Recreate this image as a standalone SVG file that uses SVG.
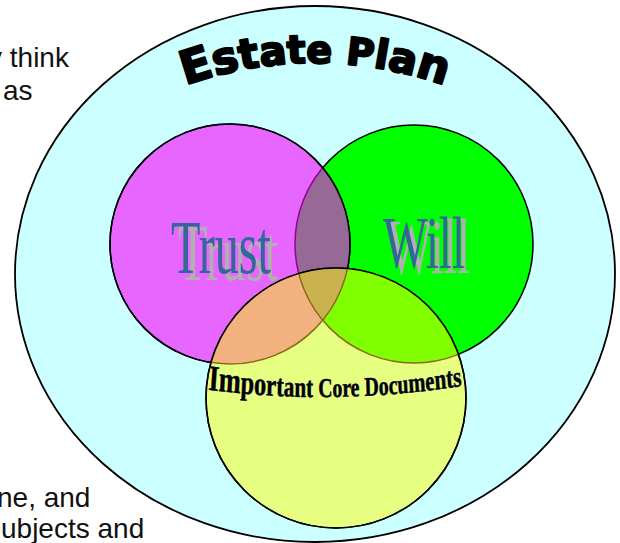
<svg xmlns="http://www.w3.org/2000/svg" xmlns:xlink="http://www.w3.org/1999/xlink" width="620" height="543" viewBox="0 0 620 543">
  <style>
    .body { font-family: "Liberation Sans", Arial, sans-serif; font-size: 28px; fill: #111; }
    .ring { stroke: #000; stroke-width: 1.5; }
    .label { font-family: "Liberation Serif", "Times New Roman", serif; }
    .blue { fill: #336699; }
    .shadow { fill: #b0b0b0; }
  </style>
  <defs>
    <circle id="trustShape" cx="230" cy="244" r="120"/>
    <circle id="willShape" cx="414" cy="244" r="119"/>
    <circle id="coreShape" cx="336" cy="398" r="130"/>
    <clipPath id="inTrust"><use href="#trustShape"/></clipPath>
    <clipPath id="inCore"><use href="#coreShape"/></clipPath>
    <path id="titleArc" d="M121,115 A388,388 0 0,1 509,115"/>
    <path id="coreArc" d="M155,389 Q335,407 515,385"/>
  </defs>

  <rect width="620" height="543" fill="#fff"/>

  <!-- surrounding body text, running off the left edge -->
  <g id="body-text" class="body">
    <text x="-12" y="67">y think</text>
    <text x="3" y="100">as</text>
    <text x="-3" y="507">ne, and</text>
    <text x="1" y="538">ubjects and</text>
  </g>

  <!-- outer set -->
  <g id="estate-plan">
    <ellipse cx="315" cy="274" rx="300" ry="268" fill="#ccffff" stroke="#000" stroke-width="1.8"/>
    <text font-family="'DejaVu Sans', sans-serif" font-weight="bold" fill="#000" stroke="#000" stroke-width="2.2" stroke-linejoin="round">
      <textPath href="#titleArc" startOffset="50%" text-anchor="middle"><tspan font-size="46">E</tspan><tspan font-size="44">s</tspan><tspan font-size="42">t</tspan><tspan font-size="40">a</tspan><tspan font-size="39">t</tspan><tspan font-size="38">e P</tspan><tspan font-size="40">l</tspan><tspan font-size="42">a</tspan><tspan font-size="45">n</tspan></textPath>
    </text>
  </g>

  <!-- inner sets -->
  <g id="will">
    <use href="#willShape" fill="#00ff00" class="ring"/>
  </g>
  <g id="trust">
    <use href="#trustShape" fill="#e666ff" class="ring"/>
    <!-- trust ∩ will lens -->
    <g clip-path="url(#inTrust)">
      <use href="#willShape" fill="#966996" stroke="#990099" stroke-width="1.5"/>
    </g>
    <use href="#trustShape" fill="none" class="ring"/>
  </g>
  <g id="core">
    <use href="#coreShape" fill="#e6ff80" class="ring"/>
    <g clip-path="url(#inCore)">
      <use href="#trustShape" fill="#f2b27f"/>
      <use href="#willShape" fill="#80ff00"/>
      <g clip-path="url(#inTrust)">
        <use href="#willShape" fill="#cab24e"/>
      </g>
      <use href="#trustShape" fill="none" stroke="#8a6a1a" stroke-width="1.5"/>
      <use href="#willShape" fill="none" stroke="#8a6a1a" stroke-width="1.5"/>
    </g>
    <use href="#coreShape" fill="none" class="ring"/>
  </g>

  <!-- set labels -->
  <g id="trust-label" class="label">
    <text class="shadow" x="178" y="280" font-size="80" textLength="100" lengthAdjust="spacingAndGlyphs">Trust</text>
    <text class="blue" x="171" y="273" font-size="77" textLength="100" lengthAdjust="spacingAndGlyphs">Trust</text>
  </g>
  <g id="will-label" class="label">
    <text class="shadow" x="388" y="273" font-size="78" textLength="82" lengthAdjust="spacingAndGlyphs">Will</text>
    <text class="blue" x="383" y="268" font-size="75" textLength="82" lengthAdjust="spacingAndGlyphs">Will</text>
  </g>
  <g id="core-label" transform="translate(335,0) scale(0.736,1) translate(-335,0)">
    <text class="label" font-weight="bold" fill="#000" stroke="#000033" stroke-width="0.5">
      <textPath href="#coreArc" startOffset="50%" text-anchor="middle"><tspan font-size="36">Im</tspan><tspan font-size="33">po</tspan><tspan font-size="31">rt</tspan><tspan font-size="29">ant</tspan><tspan font-size="27"> Core Docu</tspan><tspan font-size="28">me</tspan><tspan font-size="29">nts</tspan></textPath>
    </text>
  </g>
</svg>
